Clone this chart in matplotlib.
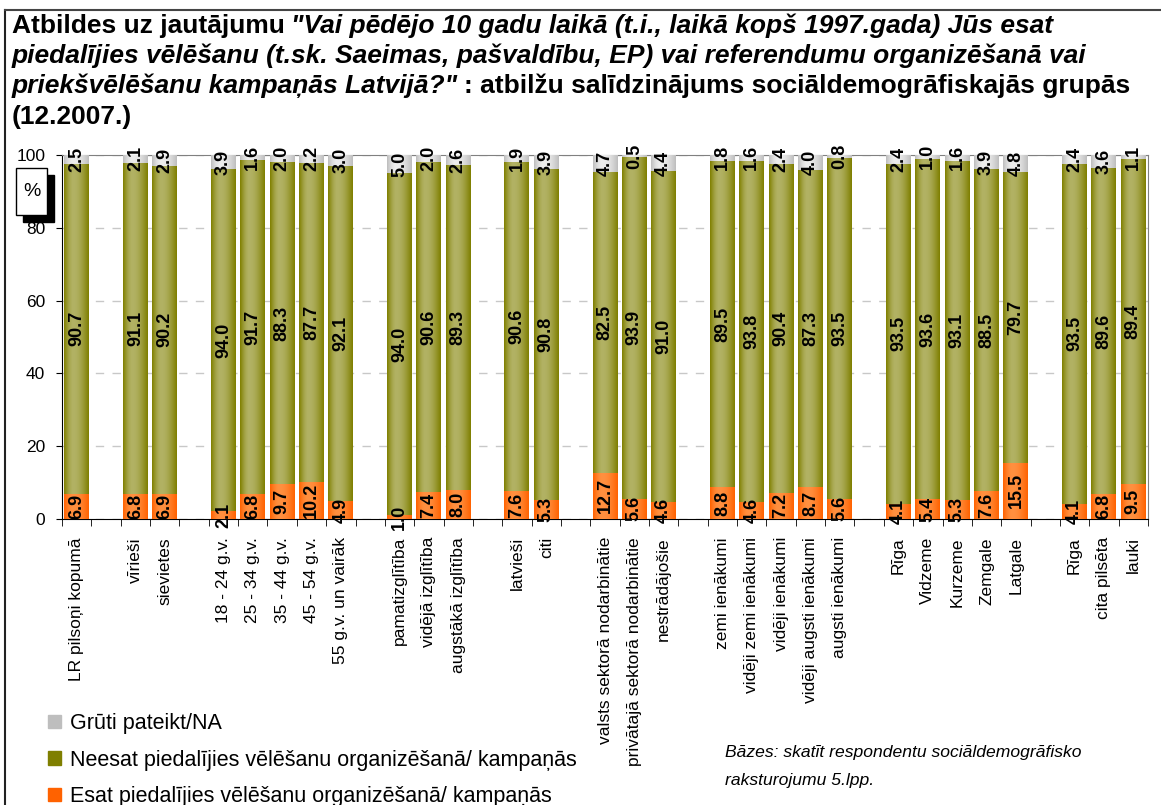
import numpy as np
import matplotlib.pyplot as plt
from matplotlib.patches import Rectangle
from matplotlib.colors import to_rgb

plt.rcParams['font.family'] = ['Liberation Sans', 'DejaVu Sans']

# category groups (a blank slot is left between groups)
groups = [
    ["LR pilsoņi kopumā"],
    ["vīrieši", "sievietes"],
    ["18 - 24 g.v.", "25 - 34 g.v.", "35 - 44 g.v.", "45 - 54 g.v.", "55 g.v. un vairāk"],
    ["pamatizglītība", "vidējā izglītība", "augstākā izglītība"],
    ["latvieši", "citi"],
    ["valsts sektorā nodarbinātie", "privātajā sektorā nodarbinātie", "nestrādājošie"],
    ["zemi ienākumi", "vidēji zemi ienākumi", "vidēji ienākumi",
     "vidēji augsti ienākumi", "augsti ienākumi"],
    ["Rīga", "Vidzeme", "Kurzeme", "Zemgale", "Latgale"],
    ["Rīga", "cita pilsēta", "lauki"],
]

esat = [6.9, 6.8, 6.9, 2.1, 6.8, 9.7, 10.2, 4.9, 1.0, 7.4, 8.0, 7.6, 5.3,
        12.7, 5.6, 4.6, 8.8, 4.6, 7.2, 8.7, 5.6, 4.1, 5.4, 5.3, 7.6, 15.5,
        4.1, 6.8, 9.5]
neesat = [90.7, 91.1, 90.2, 94.0, 91.7, 88.3, 87.7, 92.1, 94.0, 90.6, 89.3,
          90.6, 90.8, 82.5, 93.9, 91.0, 89.5, 93.8, 90.4, 87.3, 93.5, 93.5,
          93.6, 93.1, 88.5, 79.7, 93.5, 89.6, 89.4]
gruti = [2.5, 2.1, 2.9, 3.9, 1.6, 2.0, 2.2, 3.0, 5.0, 2.0, 2.6, 1.9, 3.9,
         4.7, 0.5, 4.4, 1.8, 1.6, 2.4, 4.0, 0.8, 2.4, 1.0, 1.6, 3.9, 4.8,
         2.4, 3.6, 1.1]

leg_labels = ["Grūti pateikt/NA",
              "Neesat piedalījies vēlēšanu organizēšanā/ kampaņās",
              "Esat piedalījies vēlēšanu organizēšanā/ kampaņās"]

W, H = 1161, 805
fig = plt.figure(figsize=(W / 100, H / 100), dpi=100)
ax = fig.add_axes([62 / W, 1 - 519 / H, (1148 - 62) / W, (519 - 155) / H])

pos, labels = [], []
i = 0
for gi, g in enumerate(groups):
    if gi > 0:
        i += 1
    for name in g:
        pos.append(i)
        labels.append(name)
        i += 1
n_slots = i

esat_a = np.array(esat)
neesat_a = np.array(neesat)
gruti_a = np.array(gruti)

# (edge colour, highlight colour) for the cylinder-like shading
ORANGE = ("#FF6200", "#FF9040")
OLIVE = ("#7F7F00", "#B2B264")
GREY = ("#BEBEBE", "#EDEDED")

bw = 0.85
b1 = ax.bar(pos, esat_a, width=bw, color=ORANGE[0], zorder=3)
b2 = ax.bar(pos, neesat_a, bottom=esat_a, width=bw, color=OLIVE[0], zorder=3)
b3 = ax.bar(pos, gruti_a, bottom=esat_a + neesat_a, width=bw, color=GREY[0], zorder=3)


def shade(bars, cols):
    e = np.array(to_rgb(cols[0]))
    l = np.array(to_rgb(cols[1]))
    t = np.linspace(0, 1, 64)
    w = np.where(t < 0.38, t / 0.38, (1 - t) / 0.62)
    w = np.sin(w * np.pi / 2)
    img = (e[None, :] * (1 - w[:, None]) + l[None, :] * w[:, None])[None, :, :]
    for r in bars:
        y0 = r.get_y()
        y1 = min(r.get_y() + r.get_height(), 100)
        ax.imshow(img, extent=[r.get_x(), r.get_x() + r.get_width(), y0, y1],
                  aspect='auto', zorder=3.5, interpolation='bilinear')


shade(b1, ORANGE)
shade(b2, OLIVE)
shade(b3, GREY)

# value labels
for x, a, b, c in zip(pos, esat_a, neesat_a, gruti_a):
    for v, y in ((a, a / 2), (b, a + b / 2), (c, a + b + c / 2)):
        ax.text(x, y, f"{v:.1f}", rotation=90, ha='center', va='center',
                fontsize=13, fontweight='bold', zorder=6, clip_on=False)

ax.set_xlim(-0.5, n_slots - 0.5)
ax.set_ylim(0, 100)
ax.set_yticks(range(0, 101, 20))
ax.tick_params(axis='y', labelsize=12.5, length=4, pad=8)
ax.yaxis.grid(True, linestyle=(0, (6, 6)), color='#C8C8C8', lw=1)
ax.set_axisbelow(True)

ax.set_xticks(pos)
ax.set_xticklabels(labels, rotation=90, fontsize=12.5)
ax.set_xticks(np.arange(-0.5, n_slots), minor=True)
ax.tick_params(axis='x', which='major', length=0, pad=13)
ax.tick_params(axis='x', which='minor', length=5, direction='out')

for s in ('top', 'right'):
    ax.spines[s].set_color('#808080')
for s in ('left', 'bottom'):
    ax.spines[s].set_color('black')

# "%" box with shadow
fig.patches.append(Rectangle((23 / W, 1 - 222 / H), 31 / W, 47 / H,
                             transform=fig.transFigure, color='black'))
fig.patches.append(Rectangle((16 / W, 1 - 215 / H), 31 / W, 47 / H,
                             transform=fig.transFigure, facecolor='white',
                             edgecolor='black', lw=1))
fig.text(31.5 / W, 1 - 191 / H, "%", ha='center', va='center', fontsize=14)

# legend
handles = [Rectangle((0, 0), 1, 1, color=GREY[0]),
           Rectangle((0, 0), 1, 1, color=OLIVE[0]),
           Rectangle((0, 0), 1, 1, color=ORANGE[0])]
fig.legend(handles, leg_labels, loc='upper left',
           bbox_to_anchor=(48 / W, 1 - 713 / H), frameon=False, fontsize=15.5,
           handlelength=0.6, handleheight=0.6, handletextpad=0.4,
           labelspacing=0.72, borderpad=0, borderaxespad=0)

fig.text(725 / W, 1 - 752 / H, "Bāzes: skatīt respondentu sociāldemogrāfisko",
         style='italic', fontsize=12.6, va='center')
fig.text(725 / W, 1 - 780 / H, "raksturojumu 5.lpp.",
         style='italic', fontsize=12.6, va='center')

# title with mixed bold / bold-italic runs
title_lines = [
    [("Atbildes uz jautājumu", 'normal'),
     ("\"Vai pēdējo 10 gadu laikā (t.i., laikā kopš 1997.gada) Jūs esat", 'italic')],
    [("piedalījies vēlēšanu (t.sk. Saeimas, pašvaldību, EP) vai referendumu organizēšanā vai", 'italic')],
    [("priekšvēlēšanu kampaņās Latvijā?\"", 'italic'),
     (": atbilžu salīdzinājums sociāldemogrāfiskajās grupās", 'normal')],
    [("(12.2007.)", 'normal')],
]
baselines = [33, 63, 93, 124]
renderer = fig.canvas.get_renderer()
tsize = 19
for runs, yb in zip(title_lines, baselines):
    x = 12
    for txt, st in runs:
        t = fig.text(x / W, 1 - yb / H, txt, fontsize=tsize, fontweight='bold',
                     style=st, va='baseline', ha='left')
        bb = t.get_window_extent(renderer)
        x = bb.x1 + 6

# outer frame of the chart
fig.add_artist(plt.Line2D([5 / W, 5 / W], [0, 1 - 10 / H], color='#222222',
                          lw=1.5, transform=fig.transFigure))
fig.add_artist(plt.Line2D([5 / W, 1], [1 - 10 / H, 1 - 10 / H], color='#444444',
                          lw=1.5, transform=fig.transFigure))

fig.savefig("out.png", dpi=100)
